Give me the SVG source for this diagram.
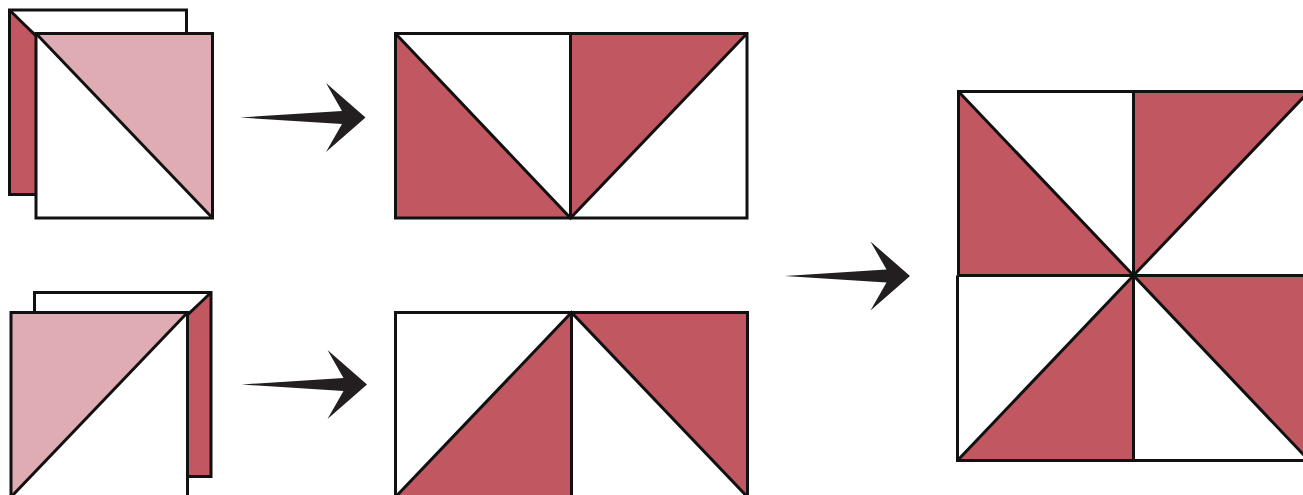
<svg xmlns="http://www.w3.org/2000/svg" width="1303" height="495" viewBox="0 0 1303 495">
<style>
.k{fill:none;stroke:#111;stroke-width:3;stroke-linejoin:miter}
.w{fill:#fff;stroke:none}
.r{fill:#c05761;stroke:none}
.p{fill:#e0acb3;stroke:none}
.a{fill:#231f20;stroke:none}
</style>
<defs>
<path id="arrow" class="a" d="M0 0L102 -6.500L86 -34.500L125.500 0L86 34.500L102 6.500Z"/>
</defs>
<rect class="w" width="1303" height="495"/>
<g id="pair-top">
<rect class="w" x="9.500" y="10" width="177" height="184.500"/>
<path class="r" d="M9.500 10L36 33.500V194.500H9.500Z"/>
<rect class="k" x="9.500" y="10" width="177" height="184.500"/>
<path class="k" d="M9.500 10L36 36"/>
<rect class="w" x="36" y="33.500" width="176.500" height="184.500"/>
<path class="p" d="M36 33.500H212.500V218Z"/>
<rect class="k" x="36" y="33.500" width="176.500" height="184.500"/>
<path class="k" d="M36 33.500L212.500 218"/>
</g>
<g id="pair-bottom">
<rect class="w" x="34.500" y="292.500" width="176.500" height="184"/>
<path class="r" d="M211 292.500L187.500 312.500V476.500H211Z"/>
<rect class="k" x="34.500" y="292.500" width="176.500" height="184"/>
<path class="k" d="M211 292.500L187.500 315"/>
<rect class="w" x="11" y="312.500" width="176.500" height="184.500"/>
<path class="p" d="M11 312.500H187.500L11 497Z"/>
<rect class="k" x="11" y="312.500" width="176.500" height="184.500"/>
<path class="k" d="M187.500 312.500L11 497"/>
</g>
<g id="row-top">
<path class="r" d="M395.500 33.500L570.500 218H395.500Z"/>
<path class="r" d="M570.500 33.500H747L570.500 218Z"/>
<rect class="k" x="395.500" y="33.500" width="351.500" height="184.500"/>
<path class="k" d="M570.500 33.500V219M395.500 33.500L570.500 218L747 33.500"/>
</g>
<g id="row-bottom">
<path class="r" d="M571.500 312.500V497H395.500Z"/>
<path class="r" d="M571.500 312.500H747.500V497Z"/>
<rect class="k" x="395.500" y="312.500" width="352" height="184.500"/>
<path class="k" d="M571.500 311V497M395.500 497L571.500 312.500L747.500 497"/>
</g>
<g id="block">
<path class="r" d="M958.500 91.500L1133.500 275.500H958.500Z"/>
<path class="r" d="M1133.500 91.500H1309L1133.500 275.500Z"/>
<path class="r" d="M1133.500 275.500H1309V460.500Z"/>
<path class="r" d="M1133.500 275.500V460.500H957.500Z"/>
<path class="k" d="M958.500 90V275.500M957.500 275.500V460.500M958.500 91.500H1309M957 275.500H1309M956 460.500H1309M1133.500 91.500V460.500M958.500 91.500L1133.500 275.500L1309 460.500M957.500 460.500L1133.500 275.500L1309 91.500"/>
</g>
<g id="connectors">
<use href="#arrow" x="240" y="117.500"/>
<use href="#arrow" x="241.500" y="384.500"/>
<use href="#arrow" x="784.500" y="276"/>
</g>
</svg>
